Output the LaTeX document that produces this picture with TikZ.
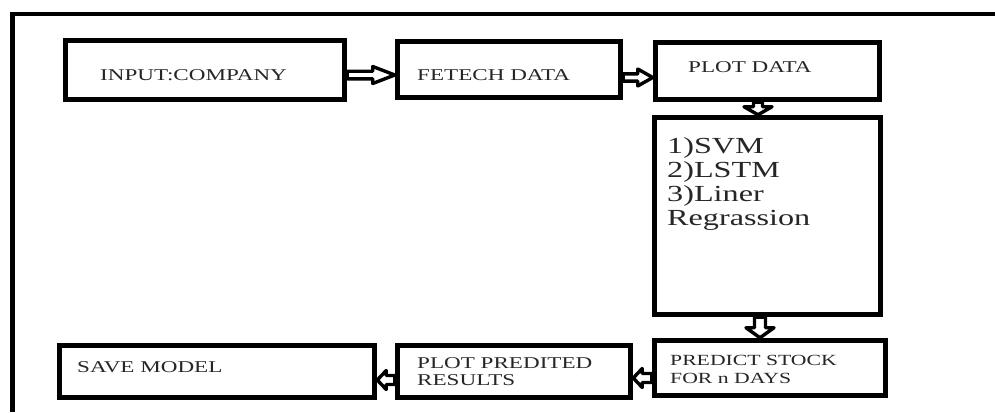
\documentclass[tikz,border=0pt]{standalone}
\usepackage{fontspec}
\setmainfont{Liberation Serif}[FakeStretch=1.4]
\usetikzlibrary{calc}
\newcommand\blockarrow[5]{% #1 shaft half width, #2 head half width, #3 head length, #4 start, #5 end
  \coordinate (bam) at ($(#5)!#3pt!(#4)$);
  \draw[barrow] ($(#4)!#1pt!90:(#5)$) -- ($(bam)!#1pt!90:(#5)$) -- ($(bam)!#2pt!90:(#5)$)
    -- (#5) -- ($(bam)!#2pt!-90:(#5)$) -- ($(bam)!#1pt!-90:(#5)$) -- ($(#4)!#1pt!-90:(#5)$) -- cycle;
}
\tikzset{
  box/.style={draw=black, line width=5.5pt, fill=white, rectangle, inner sep=0pt},
  barrow/.style={draw=black, fill=white, line width=3.4pt, line join=round},
  frameline/.style={draw=black},
  lbl/.style={anchor=base west, inner sep=0pt, text=black!85},
  txt/.style={font=\fontsize{16.5}{17}\selectfont},
}
\begin{document}
\begin{tikzpicture}[x=1pt, y=-1pt]
\useasboundingbox (0,0) rectangle (995,412);
% outer frame
\coordinate (ftl) at (12.5,13.8);
\coordinate (ftr) at (995,13.8);
\coordinate (fbl) at (12.5,412);
\draw[frameline, line width=4pt] (10,13.8) -- (ftr);
\draw[frameline, line width=5pt] (ftl) -- (fbl);
% boxes
\node[box, minimum width=279pt, minimum height=59pt] (in) at (205,70) {};
\node[box, minimum width=223pt, minimum height=56pt] (fe) at (509,69.5) {};
\node[box, minimum width=224pt, minimum height=57pt] (pd) at (767.5,71) {};
\node[box, minimum width=226pt, minimum height=197pt] (md) at (767.5,216) {};
\node[box, minimum width=231pt, minimum height=55pt] (ps) at (770,368) {};
\node[box, minimum width=233pt, minimum height=52pt] (pp) at (514,371.5) {};
\node[box, minimum width=315pt, minimum height=52pt] (sm) at (217,371.5) {};
% texts
\node[lbl, txt] (tin) at (100,80) {INPUT:COMPANY};
\node[lbl, txt] (tfe) at (417,80) {FETECH DATA};
\node[lbl, txt] (tpd) at (688,72) {PLOT DATA};
\node[lbl, font=\fontsize{23}{24}\selectfont] (tmd) at (667,153)
  {\vtop{\baselineskip=24pt\hbox{1)SVM}\hbox{2)LSTM}\hbox{3)Liner}\hbox{Regrassion}}};
\node[lbl, font=\fontsize{15.5}{18}\selectfont] (tps) at (670,365)
  {\vtop{\baselineskip=18pt\hbox{PREDICT STOCK}\hbox{FOR n DAYS}}};
\node[lbl, txt] (tpp) at (417,368)
  {\vtop{\baselineskip=17pt\hbox{PLOT PREDITED}\hbox{RESULTS}}};
\node[lbl, txt] (tsm) at (77,372) {SAVE MODEL};
% connectors
\coordinate (a1s) at ([yshift=-5pt]in.east);
\coordinate (a1e) at (fe.west |- a1s);
\blockarrow{3.8}{8.5}{22}{a1s}{a1e}
\coordinate (a2s) at ([yshift=-8pt]fe.east);
\coordinate (a2e) at (pd.west |- a2s);
\blockarrow{3.6}{8.5}{15}{a2s}{a2e}
\coordinate (a3s) at ([xshift=-9.5pt]pd.south);
\coordinate (a3e) at (a3s |- md.north);
\blockarrow{4.5}{14}{8}{a3s}{a3e}
\coordinate (a4s) at ([xshift=-7.5pt]md.south);
\coordinate (a4e) at (a4s |- ps.north);
\blockarrow{5.5}{14}{10}{a4s}{a4e}
\coordinate (a5s) at ([yshift=-10pt]ps.west);
\coordinate (a5e) at (pp.east |- a5s);
\blockarrow{4.5}{9.5}{9}{a5s}{a5e}
\coordinate (a6s) at ([yshift=-8.5pt]pp.west);
\coordinate (a6e) at (sm.east |- a6s);
\blockarrow{4.5}{9.5}{9}{a6s}{a6e}
\end{tikzpicture}
\end{document}
